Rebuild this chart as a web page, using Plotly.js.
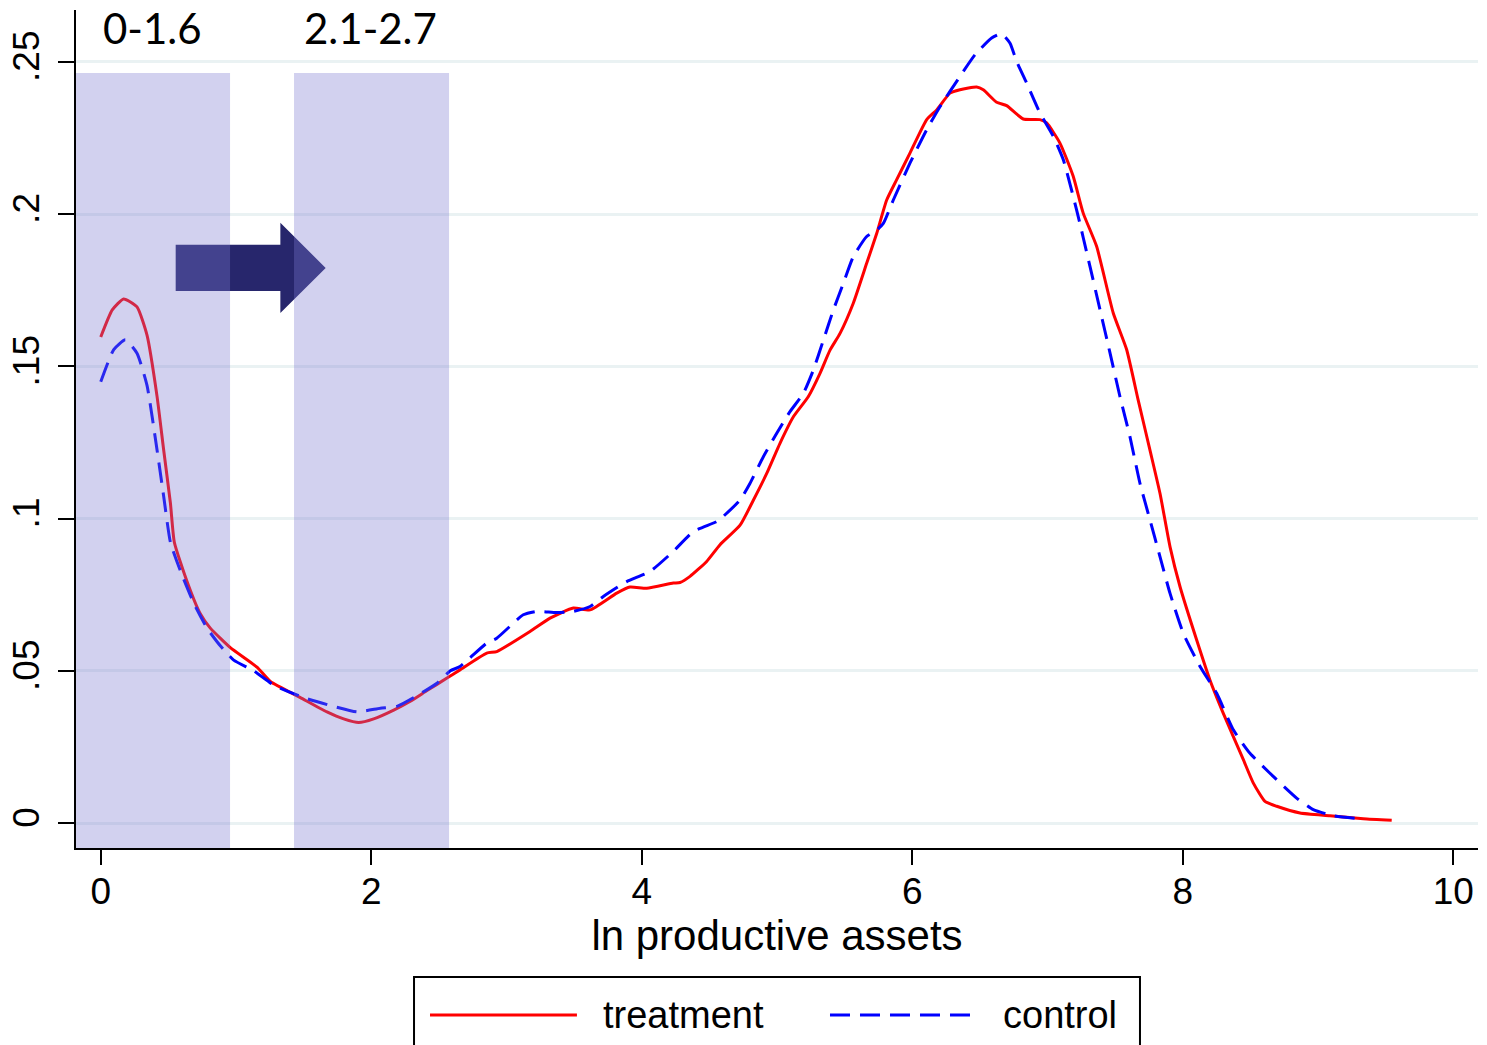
<!DOCTYPE html>
<html>
<head>
<meta charset="utf-8">
<script src="https://cdn.plot.ly/plotly-3.0.1.min.js"></script>
<style>
  html, body { margin: 0; padding: 0; background: #fff; }
  #plot { width: 1487px; height: 1045px; }
</style>
</head>
<body>
<div id="plot"></div>
<script>
// kernel density of ln productive assets
const treatX = [0.0, 0.085, 0.169, 0.268, 0.342, 0.416, 0.465, 0.515, 0.544, 0.638, 0.736, 0.81, 0.958,
    1.155, 1.254, 1.476, 1.673, 1.796, 1.907, 2.018, 2.166, 2.289, 2.412, 2.56, 2.656, 2.854, 2.928,
    3.174, 3.322, 3.494, 3.618, 3.815, 3.913, 4.037, 4.233, 4.283, 4.357, 4.48, 4.579, 4.727, 4.825,
    4.924, 5.022, 5.121, 5.231, 5.318, 5.392, 5.466, 5.564, 5.663, 5.737, 5.811, 5.885, 5.983, 6.107,
    6.181, 6.279, 6.353, 6.476, 6.525, 6.624, 6.698, 6.821, 6.944, 6.994, 7.092, 7.19, 7.264, 7.363,
    7.486, 7.585, 7.671, 7.758, 7.832, 7.906, 7.98, 8.103, 8.201, 8.3, 8.374, 8.448, 8.522, 8.608,
    8.695, 8.867, 9.088, 9.335, 9.545]
const treatY = [0.1596, 0.1685, 0.1721, 0.1695, 0.1602, 0.1402, 0.1226, 0.1051, 0.0922, 0.0793, 0.0687, 0.064, 0.0576,
    0.0512, 0.0465, 0.0412, 0.0365, 0.0342, 0.033, 0.0342, 0.0371, 0.04, 0.0435, 0.0476, 0.0503, 0.0558, 0.0563,
    0.0629, 0.0673, 0.0706, 0.070, 0.0755, 0.0775, 0.0771, 0.0788, 0.079, 0.081, 0.0859, 0.0914, 0.0978, 0.106,
    0.1148, 0.1247, 0.1334, 0.14, 0.1477, 0.1553, 0.1608, 0.1707, 0.1838, 0.1936, 0.2046, 0.2113, 0.22, 0.231,
    0.2342, 0.2397, 0.2408, 0.2417, 0.2408, 0.2367, 0.2356, 0.2312, 0.231, 0.2299, 0.2233, 0.2124, 0.2003, 0.1894,
    0.1675, 0.1555, 0.1388, 0.1224, 0.1082, 0.0907, 0.0776, 0.0601, 0.047, 0.036, 0.0284, 0.0208, 0.0131, 0.0071,
    0.0055, 0.0033, 0.0024, 0.0014, 0.0009]

const ctrlX = [0.0, 0.096, 0.182, 0.268, 0.342, 0.416, 0.465, 0.515, 0.589, 0.687, 0.786, 0.884, 0.983,
    1.131, 1.279, 1.5, 1.722, 1.895, 2.067, 2.19, 2.338, 2.486, 2.585, 2.656, 2.854, 2.928, 3.124,
    3.223, 3.37, 3.494, 3.618, 3.716, 3.889, 4.061, 4.233, 4.381, 4.554, 4.603, 4.727, 4.8, 4.899,
    4.998, 5.096, 5.195, 5.269, 5.343, 5.417, 5.49, 5.564, 5.663, 5.737, 5.786, 5.86, 5.983, 6.107,
    6.206, 6.353, 6.464, 6.587, 6.661, 6.723, 6.772, 6.846, 6.944, 7.043, 7.117, 7.215, 7.314, 7.388,
    7.462, 7.536, 7.61, 7.684, 7.758, 7.832, 7.906, 8.004, 8.128, 8.251, 8.374, 8.497, 8.669, 8.842,
    8.965, 9.113, 9.335]
const ctrlY = [0.1449, 0.1555, 0.1587, 0.1543, 0.1437, 0.1226, 0.1074, 0.0922, 0.0828, 0.0723, 0.064, 0.0582, 0.0535,
    0.05, 0.0453, 0.0412, 0.0383, 0.0365, 0.0377, 0.0383, 0.0418, 0.0459, 0.05, 0.0514, 0.0591, 0.0607, 0.0684,
    0.0695, 0.0691, 0.0695, 0.0711, 0.0744, 0.0793, 0.0826, 0.0892, 0.0957, 0.099, 0.1007, 0.1061, 0.1115, 0.1203,
    0.128, 0.1351, 0.1411, 0.1488, 0.1586, 0.1685, 0.1772, 0.186, 0.1926, 0.1947, 0.1969, 0.2046, 0.2167, 0.2277,
    0.2353, 0.2452, 0.2523, 0.2578, 0.2592, 0.2561, 0.2501, 0.243, 0.2332, 0.2255, 0.2178, 0.2014, 0.1828, 0.1686,
    0.1544, 0.140, 0.1268, 0.1115, 0.0995, 0.0874, 0.0754, 0.0623, 0.0514, 0.0426, 0.0306, 0.0229, 0.0153, 0.0082,
    0.0044, 0.0024, 0.0013]

const xTicks = [0, 2, 4, 6, 8, 10]
const xTickText = ["0", "2", "4", "6", "8", "10"]
const yTicks = [0, 0.05, 0.1, 0.15, 0.2, 0.25]
const yTickText = ["0", ".05", ".1", ".15", ".2", ".25"]

// shaded bands and their labels
const bandStart = [-0.183, 1.429]
const bandEnd = [0.956, 2.575]
const bandTop = 0.2463
const bandLabels = ["0-1.6", "2.1-2.7"]
const bandLabelX = [0.38, 1.995]

// arrow outline (data units)
const arrowX = [0.554, 1.328, 1.328, 1.663, 1.328, 1.328, 0.554]
const arrowY = [0.1899, 0.1899, 0.1971, 0.1823, 0.1675, 0.1747, 0.1747]

const xRange = [-0.183, 10.183]
const yRange = [-0.0082, 0.267]

const font = "Liberation Sans, Arial, Helvetica, sans-serif"

const data = [
    {
        x: treatX, y: treatY, name: "treatment", type: "scatter", mode: "lines",
        line: {color: "#ff0000", width: 3, shape: "spline", smoothing: 0.5}
    },
    {
        x: ctrlX, y: ctrlY, name: "control", type: "scatter", mode: "lines",
        line: {color: "#0000ff", width: 3, dash: "20px,10px", shape: "spline", smoothing: 0.5}
    }
]

let arrowPath = ""
for (let i = 0; i < arrowX.length; i++){
    arrowPath += (i === 0 ? "M" : "L") + arrowX[i] + "," + arrowY[i]
}
arrowPath += "Z"

const shapes = [{
    type: "path", path: arrowPath, xref: "x", yref: "y",
    fillcolor: "#27266c", line: {width: 0}, layer: "above"
}]
for (let i = 0; i < bandStart.length; i++){
    shapes.push({
        type: "rect", xref: "x", yref: "y",
        x0: bandStart[i], x1: bandEnd[i], y0: yRange[0], y1: bandTop,
        fillcolor: "rgb(122,119,208)", opacity: 0.34, line: {width: 0}, layer: "above"
    })
}

// legend drawn by hand so the sample lines get their long Stata look
const legendBox = {x0: 0.2411, x1: 0.7589, y0: -0.1539, y1: -0.27}
const legendRow = -0.1993
const legendLines = [[0.2525, 0.3573], [0.5378, 0.6434]]
const legendTextX = [0.3745, 0.6598]

shapes.push({
    type: "rect", xref: "paper", yref: "paper",
    x0: legendBox.x0, x1: legendBox.x1, y0: legendBox.y0, y1: legendBox.y1,
    fillcolor: "#ffffff", line: {color: "#000000", width: 2}, layer: "above"
})
for (let i = 0; i < data.length; i++){
    shapes.push({
        type: "line", xref: "paper", yref: "paper",
        x0: legendLines[i][0], x1: legendLines[i][1], y0: legendRow, y1: legendRow,
        line: {color: data[i].line.color, width: 3, dash: data[i].line.dash || "solid"}, layer: "above"
    })
}

const annotations = []
for (let i = 0; i < bandLabels.length; i++){
    annotations.push({
        text: bandLabels[i], x: bandLabelX[i], xref: "x", y: 0.979, yref: "paper",
        showarrow: false, xanchor: "center", yanchor: "middle",
        font: {family: "Lato, Carlito, sans-serif", size: 42, color: "#000"}
    })
}
for (let i = 0; i < data.length; i++){
    annotations.push({
        text: data[i].name, x: legendTextX[i], xref: "paper", y: legendRow, yref: "paper",
        showarrow: false, xanchor: "left", yanchor: "middle",
        font: {family: font, size: 38, color: "#000"}
    })
}

const layout = {
    width: 1487,
    height: 1045,
    margin: {l: 76, r: 9, t: 10, b: 197, autoexpand: false},
    paper_bgcolor: "#ffffff",
    plot_bgcolor: "#ffffff",
    showlegend: false,
    font: {family: font, color: "#000"},
    xaxis: {
        range: xRange, tickvals: xTicks, ticktext: xTickText,
        showgrid: false, zeroline: false,
        showline: true, linecolor: "#000", linewidth: 2,
        ticks: "outside", ticklen: 15, tickwidth: 2, tickcolor: "#000",
        tickfont: {size: 37}, ticklabelstandoff: -5,
        title: {text: "ln productive assets", font: {size: 42}, standoff: 8}
    },
    yaxis: {
        range: yRange, tickvals: yTicks, ticktext: yTickText, tickangle: -90,
        showgrid: true, gridcolor: "#eaf2f3", gridwidth: 3, zeroline: false,
        showline: true, linecolor: "#000", linewidth: 2,
        ticks: "outside", ticklen: 16, tickwidth: 2, tickcolor: "#000",
        tickfont: {size: 37}, ticklabelstandoff: 4
    },
    shapes: shapes,
    annotations: annotations
}

Plotly.newPlot("plot", data, layout, {staticPlot: true})
</script>
</body>
</html>
